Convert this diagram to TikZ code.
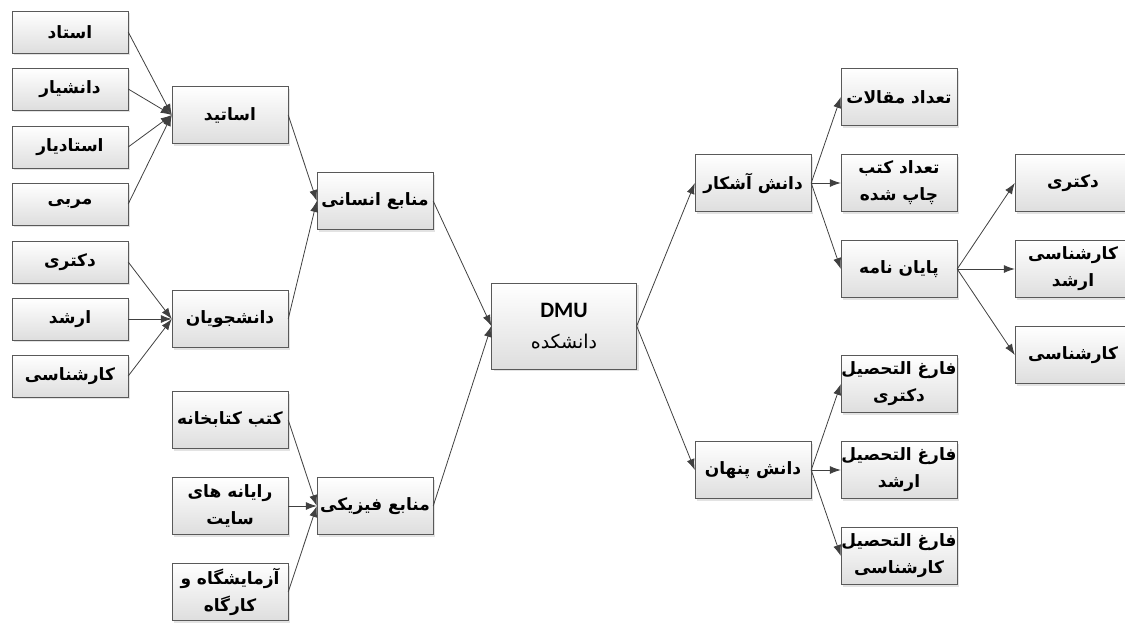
\documentclass[tikz,border=0pt]{standalone}
\usepackage{fontspec}
\setmainfont{DejaVu Sans}
\newfontfamily\arabicfont[Script=Arabic]{DejaVu Sans}
\newfontfamily\latinfont{Carlito}
\TeXXeTstate=1
\usetikzlibrary{arrows.meta,shadows}
\newcommand{\fa}[1]{{\arabicfont\bfseries\beginR #1\endR}}

\begin{document}
\begin{tikzpicture}[x=1pt, y=-1pt, >={Latex[length=11pt,width=8pt]},
    box/.style={draw=black!65, top color=white, bottom color=black!13,
      drop shadow={shadow xshift=2pt, shadow yshift=-2pt, fill=black!22},
      minimum width=116pt, minimum height=57pt, inner sep=0pt, align=center,
      font=\fontsize{17}{27}\selectfont},
    leaf/.style={box, minimum height=42pt},
    link/.style={->, draw=black!75, line width=0.8pt}]
    \useasboundingbox (0,0) rectangle (1125,622);

    % left side
    \node [leaf] (ostad) at (70,32) {\fa{استاد}};
    \node [leaf] (daneshyar) at (70,89) {\fa{دانشیار}};
    \node [leaf] (ostadyar) at (70,147) {\fa{استادیار}};
    \node [leaf] (morabi) at (70,204) {\fa{مربی}};
    \node [leaf] (doktori) at (70,262) {\fa{دکتری}};
    \node [leaf] (arshad) at (70,319) {\fa{ارشد}};
    \node [leaf] (karshenasi) at (70,376) {\fa{کارشناسی}};

    \node [box] (asatid) at (230,115) {\fa{اساتید}};
    \node [box] (daneshjoyan) at (230,319) {\fa{دانشجویان}};
    \node [box] (ketab) at (230,420) {\fa{کتب کتابخانه}};
    \node [box] (rayane) at (230,506) {\fa{رایانه های}\\\fa{سایت}};
    \node [box] (azmayesh) at (230,592) {\fa{آزمایشگاه و}\\\fa{کارگاه}};

    \node [box] (ensani) at (375,201) {\fa{منابع انسانی}};
    \node [box] (fiziki) at (375,506) {\fa{منابع فیزیکی}};

    \node [box, minimum width=145pt, minimum height=86pt] (dmu) at (564,326)
      {{\latinfont\bfseries\fontsize{22}{22}\selectfont DMU}\\[4pt]{\arabicfont\fontsize{19}{19}\selectfont\beginR دانشکده\endR}};

    % right side
    \node [box] (ashkar) at (753,183) {\fa{دانش آشکار}};
    \node [box] (penhan) at (753,470) {\fa{دانش پنهان}};

    \node [box] (maghalat) at (899,97) {\fa{تعداد مقالات}};
    \node [box] (ketabchap) at (899,183) {\fa{تعداد کتب}\\\fa{چاپ شده}};
    \node [box] (payan) at (899,269) {\fa{پایان نامه}};
    \node [box] (fdoktori) at (899,384) {\fa{فارغ التحصیل}\\\fa{دکتری}};
    \node [box] (farshad) at (899,470) {\fa{فارغ التحصیل}\\\fa{ارشد}};
    \node [box] (fkarshenasi) at (899,556) {\fa{فارغ التحصیل}\\\fa{کارشناسی}};

    \node [box] (pdoktori) at (1073,183) {\fa{دکتری}};
    \node [box] (parshad) at (1073,269) {\fa{کارشناسی}\\\fa{ارشد}};
    \node [box] (pkarshenasi) at (1073,355) {\fa{کارشناسی}};

    \foreach \a in {ostad,daneshyar,ostadyar,morabi}
      \draw [link] (\a.east) -- (asatid.west);
    \foreach \a in {doktori,arshad,karshenasi}
      \draw [link] (\a.east) -- (daneshjoyan.west);
    \foreach \a in {ketab,rayane,azmayesh}
      \draw [link] (\a.east) -- (fiziki.west);
    \foreach \a in {asatid,daneshjoyan}
      \draw [link] (\a.east) -- (ensani.west);
    \foreach \a in {ensani,fiziki}
      \draw [link] (\a.east) -- (dmu.west);
    \foreach \b in {ashkar,penhan}
      \draw [link] (dmu.east) -- (\b.west);
    \foreach \b in {maghalat,ketabchap,payan}
      \draw [link] (ashkar.east) -- (\b.west);
    \foreach \b in {fdoktori,farshad,fkarshenasi}
      \draw [link] (penhan.east) -- (\b.west);
    \foreach \b in {pdoktori,parshad,pkarshenasi}
      \draw [link] (payan.east) -- (\b.west);
\end{tikzpicture}
\end{document}
